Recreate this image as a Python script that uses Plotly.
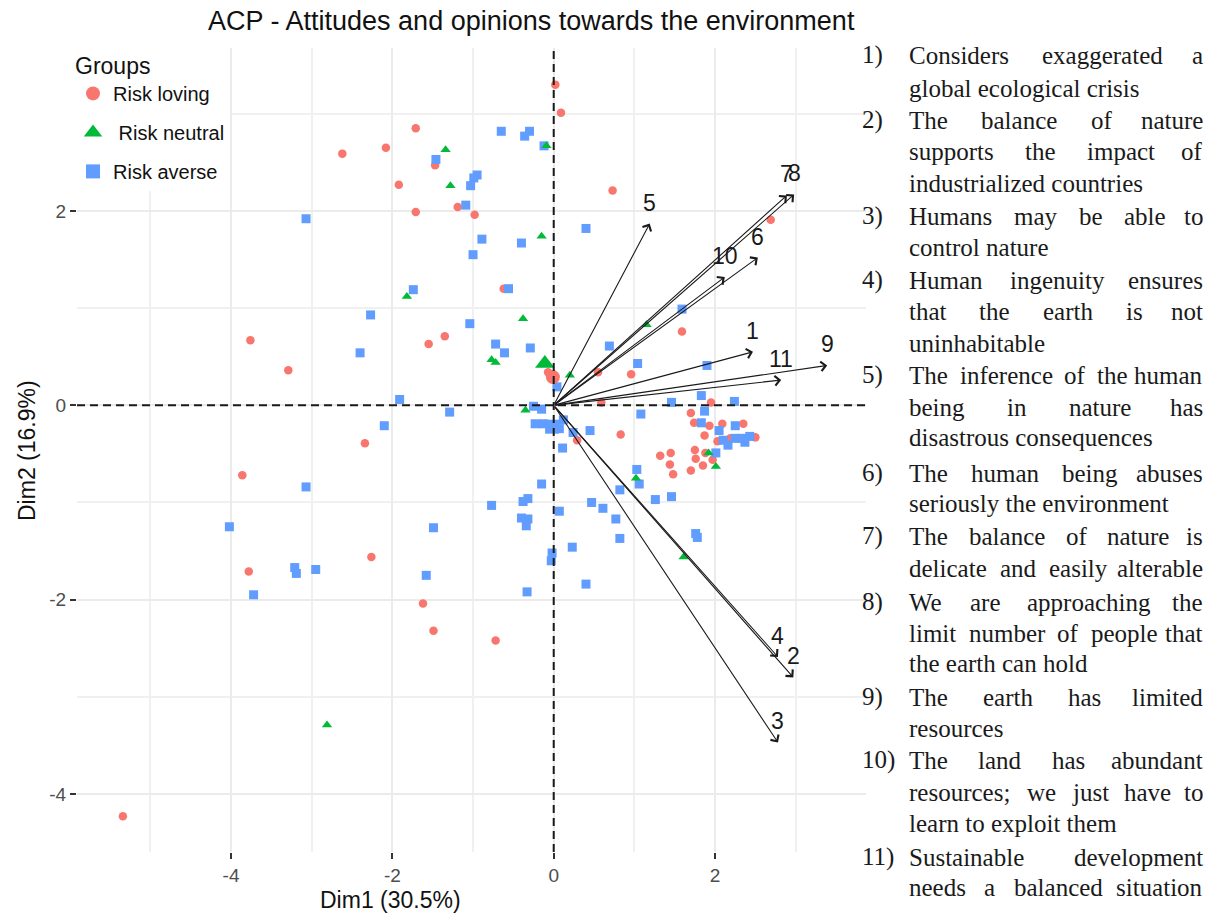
import plotly.graph_objects as go

# ---------------- data ----------------
groups = ["Risk loving", "\u00a0Risk neutral", "Risk averse"]
colors = ["#F8766D", "#00BA38", "#619CFF"]
symbols = ["circle", "triangle-up", "square"]

loving_x = [0.02, 0.09, -1.71, -2.08, -2.62, -1.47, -1.92, -1.71, -1.19, -0.98, 0.73, 2.69,
            -0.62, 1.59, -3.76, -1.55, -1.35, -3.29, -0.07, 0.55, 0.96, 0.59, 1.95, -2.34,
            0.29, 0.83, 1.70, 1.74, 1.93, 2.09, 2.35, 1.87, 2.03, 2.19, 2.50, 1.75, 1.45,
            1.32, 1.76, 1.88, 1.97, 1.44, 1.85, 1.70, 1.48, -3.86, -2.26, -3.78, -1.62,
            -1.49, -0.72, -5.34]
loving_y = [3.30, 3.01, 2.85, 2.65, 2.59, 2.47, 2.27, 1.99, 2.04, 1.96, 2.21, 1.91,
            1.20, 0.76, 0.67, 0.63, 0.71, 0.36, 0.34, 0.34, 0.32, 0.03, 0.03, -0.39,
            -0.36, -0.30, -0.08, -0.18, -0.21, -0.19, -0.19, -0.31, -0.37, -0.34, -0.33, -0.46, -0.49,
            -0.52, -0.55, -0.49, -0.56, -0.61, -0.62, -0.67, -0.71, -0.72, -1.56, -1.71, -2.04,
            -2.32, -2.42, -4.23]

neutral_x = [-0.09, -1.34, -1.28, -0.15, -1.82, -0.38, 1.15, -0.77, -0.72, 0.20, -0.35,
             1.92, 2.01, 1.02, 1.61, -2.81]
neutral_y = [2.67, 2.63, 2.26, 1.74, 1.12, 0.89, 0.83, 0.47, 0.44, 0.31, -0.05,
             -0.49, -0.63, -0.75, -1.56, -3.29]

averse_x = [-0.65, -0.30, -0.36, -0.12, -1.46, -0.95, -0.99, -1.03, -3.07, -1.09, -0.89, -0.40,
            -1.00, 0.40, -1.74, -0.56, -2.27, 1.59, -1.04, -2.40, -0.72, -0.61, -0.29, 0.69,
            1.04, 0.04, 1.90, 1.83, -1.91, 1.46, 2.24, 1.87, -1.29, -0.25, -0.15, 1.08,
            -2.10, -0.23, -0.13, 0.07, 0.12, 0.24, 0.45, 1.83, 2.25, 2.05, 2.10, 2.16,
            2.25, 2.33, 2.43, 2.37, 0.11, 2.01, 1.03, 1.06, -3.07, -0.15, 0.82, 1.26,
            1.46, 0.47, 0.61, 0.77, -0.77, -0.38, -0.32, -0.40, -0.32, -0.34, 0.07, -4.02,
            -1.49, 0.82, 1.76, 1.78, 0.23, -0.02, -0.03, -3.21, -3.19, -2.95, -1.58, -3.72,
            -0.33, 0.40]
averse_y = [2.82, 2.82, 2.77, 2.67, 2.53, 2.37, 2.34, 2.26, 1.92, 2.06, 1.71, 1.67,
            1.55, 1.82, 1.19, 1.20, 0.93, 0.99, 0.84, 0.54, 0.63, 0.54, 0.59, 0.61,
            0.43, 0.19, 0.41, 0.10, 0.06, 0.03, 0.04, -0.06, -0.07, -0.01, -0.04, -0.09,
            -0.21, -0.19, -0.19, -0.24, -0.15, -0.28, -0.26, -0.18, -0.21, -0.26, -0.36, -0.41,
            -0.34, -0.34, -0.32, -0.38, -0.44, -0.49, -0.66, -0.81, -0.84, -0.81, -0.87, -0.97,
            -0.94, -1.00, -1.06, -1.17, -1.03, -0.99, -0.96, -1.16, -1.17, -1.24, -1.09, -1.25,
            -1.26, -1.37, -1.32, -1.36, -1.46, -1.52, -1.60, -1.67, -1.73, -1.69, -1.75, -1.95,
            -1.92, -1.84]

# group centroids (mean points)
mean_x = [-0.01, -0.11, -0.02]
mean_y = [0.29, 0.43, -0.22]

# variables (arrows)
var_labels = ["1", "2", "3", "4", "5", "6", "7", "8", "9", "10", "11"]
var_x = [2.47, 2.97, 2.78, 2.78, 1.19, 2.53, 2.89, 2.98, 3.39, 2.12, 2.82]
var_y = [0.55, -2.80, -3.47, -2.59, 1.87, 1.52, 2.16, 2.17, 0.41, 1.32, 0.26]

x_tickvals = [-4, -2, 0, 2]
x_ticktext = ["-4", "-2", "0", "2"]
y_tickvals = [-4, -2, 0, 2]
y_ticktext = ["-4", "-2", "0", "2"]
x_minorvals = [-5, -3, -1, 1, 3]
y_minorvals = [-3, -1, 1, 3]

title_text = "ACP - Attitudes and opinions towards the environment"
xlab = "Dim1 (30.5%)"
ylab = "Dim2 (16.9%)"

# right-hand list: (y-centre px, number, line text, justified?)
notes = [
    (55, "1)", "Considers exaggerated a", True),
    (88, None, "global ecological crisis", False),
    (120, "2)", "The balance of nature", True),
    (152, None, "supports the impact of", True),
    (183, None, "industrialized countries", False),
    (216, "3)", "Humans may be able to", True),
    (248, None, "control nature", False),
    (280, "4)", "Human ingenuity ensures", True),
    (312, None, "that the earth is not", True),
    (343, None, "uninhabitable", False),
    (375, "5)", "The inference of the human", True),
    (407, None, "being in nature has", True),
    (438, None, "disastrous consequences", False),
    (473, "6)", "The human being abuses", True),
    (503, None, "seriously the environment", False),
    (536, "7)", "The balance of nature is", True),
    (568, None, "delicate and easily alterable", True),
    (602, "8)", "We are approaching the", True),
    (633, None, "limit number of people that", True),
    (663, None, "the earth can hold", False),
    (697, "9)", "The earth has limited", True),
    (728, None, "resources", False),
    (760, "10)", "The land has abundant", True),
    (792, None, "resources; we just have to", True),
    (823, None, "learn to exploit them", False),
    (857, "11)", "Sustainable development", True),
    (887, None, "needs a balanced situation", True),
]

# ---------------- layout geometry ----------------
W, H = 1215, 917
L, R, T, B = 77, 866, 48, 852
XR = [-5.909, 3.871]
YR = [-4.597, 3.677]
TEXT_L, TEXT_R, NUM_X = 907, 1205, 860
SERIF_SIZE = 25


def pxx(px):
    return (px - L) / (R - L)


def pxy(py):
    return (B - py) / (B - T)


# Times / Liberation Serif advance widths (per 1000 em)
TIMES_W = dict(zip("abcdefghijklmnopqrstuvwxyz",
                   [444, 500, 444, 500, 444, 333, 500, 500, 278, 278, 500, 278, 778,
                    500, 500, 500, 500, 333, 389, 278, 500, 500, 722, 500, 500, 444]))
TIMES_W.update(dict(zip("ABCDEFGHIJKLMNOPQRSTUVWXYZ",
                        [722, 667, 667, 722, 611, 556, 722, 722, 333, 389, 722, 611, 889,
                         722, 722, 556, 722, 667, 556, 611, 722, 722, 944, 722, 722, 611])))
TIMES_W.update({";": 278, ",": 250, ".": 250, ")": 333, " ": 250})


def word_w(w):
    return sum(TIMES_W.get(c, 500) for c in w) * SERIF_SIZE / 1000.0


SANS = "Liberation Sans, Arial, sans-serif"
SERIF = "Liberation Serif, Times New Roman, serif"

fig = go.Figure()

# legend-only entries
for i, g in enumerate(groups):
    fig.add_trace(go.Scatter(
        x=[None], y=[None], mode="markers", name=g, legendgroup=g,
        marker=dict(color=colors[i], symbol=symbols[i],
                    size=[14, 16, 14][i], line=dict(width=0)),
        showlegend=True))

pts = [(loving_x, loving_y, 0, 8.5), (averse_x, averse_y, 2, 9), (neutral_x, neutral_y, 1, 9)]
for xs, ys, gi, sz in pts:
    fig.add_trace(go.Scatter(
        x=xs, y=ys, mode="markers", legendgroup=groups[gi], showlegend=False,
        marker=dict(color=colors[gi], symbol=symbols[gi], size=sz, line=dict(width=0)),
        hoverinfo="x+y"))

for gi, sz in [(2, 14), (1, 17), (0, 14)]:
    fig.add_trace(go.Scatter(
        x=[mean_x[gi]], y=[mean_y[gi]], mode="markers", legendgroup=groups[gi],
        showlegend=False,
        marker=dict(color=colors[gi], symbol=symbols[gi], size=sz, line=dict(width=0))))

annotations = []
# arrows
for vx, vy in zip(var_x, var_y):
    annotations.append(dict(
        x=vx, y=vy, ax=0, ay=0, xref="x", yref="y", axref="x", ayref="y",
        text="", showarrow=True, arrowhead=4, arrowsize=1.7, arrowwidth=1.1,
        arrowcolor="#1a1a1a", standoff=0, startstandoff=0))
for vx, vy, lab in zip(var_x, var_y, var_labels):
    annotations.append(dict(
        x=vx, y=vy, xref="x", yref="y", text=lab, showarrow=False,
        yshift=21, xanchor="center", yanchor="middle",
        font=dict(family=SANS, size=23, color="#1a1a1a")))

# title and axis titles
annotations.append(dict(x=pxx(531), y=pxy(21), xref="paper", yref="paper", text=title_text,
                        showarrow=False, xanchor="center", yanchor="middle",
                        font=dict(family=SANS, size=27, color="#111111")))
annotations.append(dict(x=pxx(390), y=pxy(900), xref="paper", yref="paper", text=xlab,
                        showarrow=False, xanchor="center", yanchor="middle",
                        font=dict(family=SANS, size=23, color="#111111")))
annotations.append(dict(x=pxx(27), y=pxy(450), xref="paper", yref="paper", text=ylab,
                        showarrow=False, xanchor="center", yanchor="middle", textangle=-90,
                        font=dict(family=SANS, size=23, color="#111111")))

# right-hand text list (justified lines laid out word by word)
serif_font = dict(family=SERIF, size=SERIF_SIZE, color="#1a1a1a")
for yc, num, line, justify in notes:
    if num:
        annotations.append(dict(x=pxx(NUM_X), y=pxy(yc), xref="paper", yref="paper", text=num,
                                showarrow=False, xanchor="left", yanchor="middle",
                                font=serif_font))
    words = line.split(" ")
    if not justify or len(words) == 1:
        annotations.append(dict(x=pxx(TEXT_L), y=pxy(yc), xref="paper", yref="paper",
                                text=line, showarrow=False, xanchor="left", yanchor="middle",
                                font=serif_font))
        continue
    widths = [word_w(w) for w in words]
    gap = (TEXT_R - TEXT_L - sum(widths)) / (len(words) - 1)
    pos = TEXT_L
    for k, (w, ww) in enumerate(zip(words, widths)):
        if k == len(words) - 1:
            annotations.append(dict(x=pxx(TEXT_R), y=pxy(yc), xref="paper", yref="paper",
                                    text=w, showarrow=False, xanchor="right",
                                    yanchor="middle", font=serif_font))
        else:
            annotations.append(dict(x=pxx(pos), y=pxy(yc), xref="paper", yref="paper",
                                    text=w, showarrow=False, xanchor="left",
                                    yanchor="middle", font=serif_font))
        pos += ww + gap

shapes = [
    dict(type="line", xref="x", yref="paper", x0=0, x1=0, y0=0, y1=1, layer="above",
         line=dict(color="#1a1a1a", width=2, dash="8px,5px")),
    dict(type="line", xref="paper", yref="y", x0=0, x1=1, y0=0, y1=0, layer="above",
         line=dict(color="#1a1a1a", width=2, dash="8px,5px")),
]

axis_common = dict(
    showgrid=True, gridcolor="#EBEBEB", gridwidth=2, zeroline=False, showline=False,
    ticks="outside", ticklen=6, tickwidth=2, tickcolor="#333333",
    tickfont=dict(family=SANS, size=19, color="#4D4D4D"),
    tickmode="array",
)

fig.update_layout(
    width=W, height=H, autosize=False,
    margin=dict(l=L, r=W - R, t=T, b=H - B, pad=0),
    paper_bgcolor="white", plot_bgcolor="white",
    xaxis=dict(range=XR, tickvals=x_tickvals, ticktext=x_ticktext,
               minor=dict(tickmode="array", tickvals=x_minorvals, showgrid=True,
                          gridcolor="#F0F0F0", gridwidth=1.5, ticks=""),
               **axis_common),
    yaxis=dict(range=YR, tickvals=y_tickvals, ticktext=y_ticktext,
               minor=dict(tickmode="array", tickvals=y_minorvals, showgrid=True,
                          gridcolor="#F0F0F0", gridwidth=1.5, ticks=""),
               **axis_common),
    showlegend=True,
    legend=dict(
        x=pxx(73), y=pxy(44), xanchor="left", yanchor="top",
        bgcolor="white", borderwidth=0,
        font=dict(family=SANS, size=20, color="#111111"),
        title=dict(text="Groups", font=dict(family=SANS, size=23, color="#111111")),
        traceorder="grouped", tracegroupgap=10, itemsizing="trace",
    ),
    annotations=annotations,
    shapes=shapes,
)

fig.write_html("out.html", config={"displayModeBar": False},
               post_script="document.body.style.margin='0';")
